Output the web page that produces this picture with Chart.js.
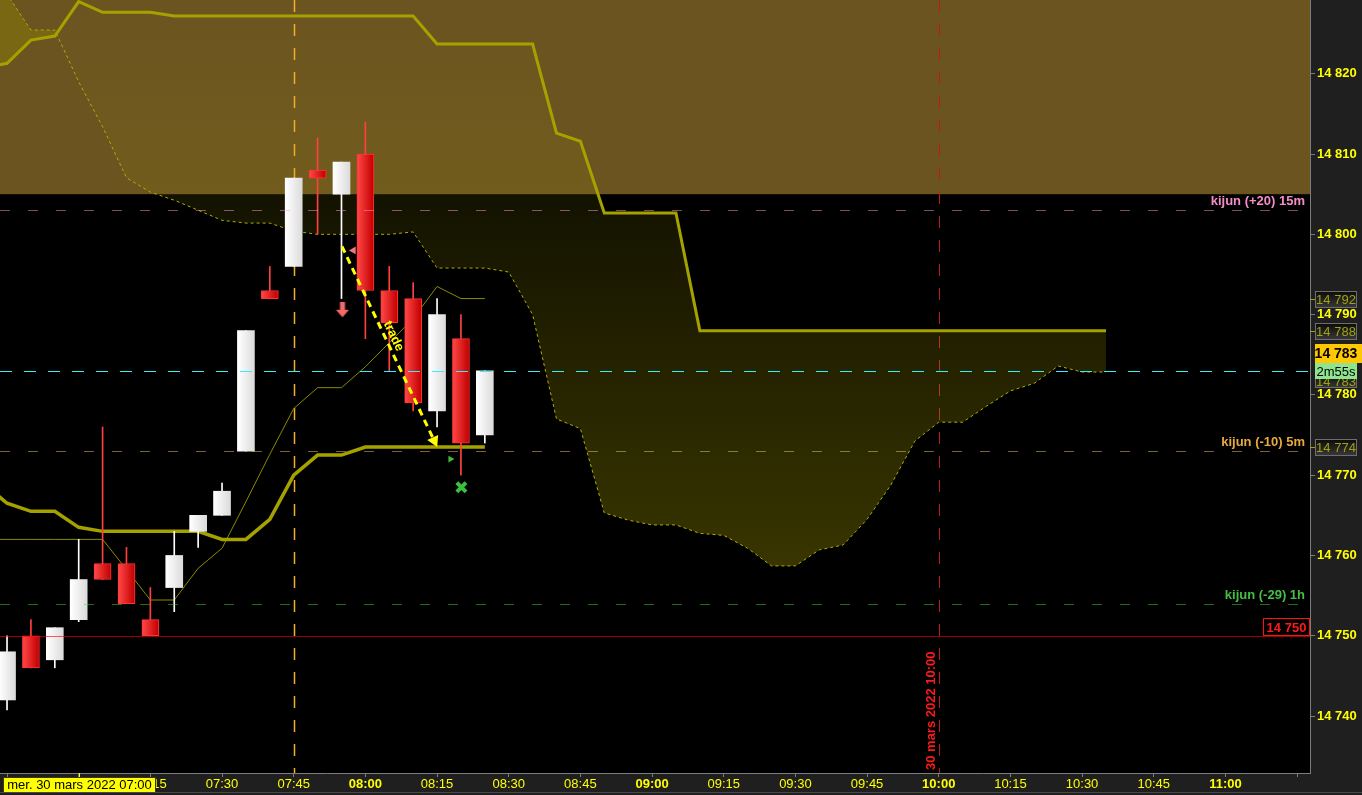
<!DOCTYPE html>
<html>
<head>
<meta charset="utf-8">
<script src="https://cdn.jsdelivr.net/npm/chart.js@4.4.1/dist/chart.umd.min.js"></script>
<style>
  html, body { margin: 0; padding: 0; background: #1f1f1f; overflow: hidden; }
  canvas { display: block; }
</style>
</head>
<body>
<canvas id="ichimokuChart" width="1362" height="795"></canvas>
<script>
// 5 min candles, mer. 30 mars 2022 - times are minutes after midnight
const candleTimes = [405, 410, 415, 420, 425, 430, 435, 440, 445, 450, 455, 460, 465, 470, 475, 480, 485, 490, 495, 500, 505];
const opens  = [14742, 14750, 14747, 14752, 14759, 14759, 14752, 14756, 14763, 14765, 14773, 14793, 14796, 14808, 14805, 14810, 14793, 14792, 14778, 14787, 14775];
const highs  = [14750, 14752, 14751, 14762, 14776, 14761, 14756, 14763, 14765, 14769, 14788, 14796, 14807, 14812, 14809, 14814, 14796, 14794, 14792, 14790, 14783];
const lows   = [14740.75, 14746, 14746, 14751.75, 14757, 14754, 14750, 14753, 14761, 14765, 14773, 14792, 14796, 14800, 14792, 14787, 14783, 14778, 14776, 14770, 14774];
const closes = [14748, 14746, 14751, 14757, 14757, 14754, 14750, 14760, 14765, 14768, 14788, 14792, 14807, 14807, 14809, 14793, 14789, 14779, 14790, 14774, 14783];

// tenkan / kijun, 06:40 -> 08:25
const lineTimes = [400, 405, 410, 415, 420, 425, 430, 435, 440, 445, 450, 455, 460, 465, 470, 475, 480, 485, 490, 495, 500, 505];
const tenkan = [14762, 14762, 14762, 14762, 14762, 14762, 14758.25, 14754.45, 14754.45, 14758.4, 14760.9, 14766.7, 14772.6, 14778.3, 14780.9, 14780.9, 14783.5, 14786.5, 14789.5, 14793.5, 14792, 14792];
const kijun  = [14769, 14766.5, 14765.5, 14765.5, 14763.5, 14763, 14763, 14763, 14763, 14763, 14762, 14762, 14764.5, 14770, 14772.5, 14772.5, 14773.5, 14773.5, 14773.5, 14773.5, 14773.5, 14773.5];

// senkou spans (projected), 06:40 -> 10:35
const cloudTimes = [400, 405, 410, 415, 420, 425, 430, 435, 440, 445, 450, 455, 460, 465, 470, 475,
  480, 485, 490, 495, 500, 505, 510, 515, 520, 525, 530, 535, 540, 545, 550, 555,
  560, 565, 570, 575, 580, 585, 590, 595, 600, 605, 610, 615, 620, 625, 630, 635];
const spanA = [14832.4, 14829.9, 14825.45, 14825.45, 14819, 14813.4, 14807.05, 14805.25, 14804.25, 14803, 14801.75, 14801.4, 14801.4, 14800.4, 14800, 14800,
  14800, 14800, 14800.3, 14795.8, 14795.8, 14795.8, 14795.3, 14790, 14777, 14775.8, 14765.3, 14764.4, 14763.8, 14763.8, 14762.75, 14762.5,
  14760.9, 14758.7, 14758.7, 14760.7, 14761.3, 14764.5, 14768.8, 14774.25, 14776.6, 14776.6, 14778.6, 14780.5, 14781.45, 14783.6, 14782.85, 14782.85];
const spanB = [14820.7, 14821.3, 14824.2, 14824.7, 14829, 14827.65, 14827.65, 14827.65, 14827.2, 14827.2, 14827.2, 14827.2, 14827.2, 14827.2, 14827.2, 14827.2,
  14827.2, 14827.2, 14827.2, 14823.7, 14823.7, 14823.7, 14823.7, 14823.7, 14812.6, 14811.6, 14802.65, 14802.65, 14802.65, 14802.65, 14788, 14788,
  14788, 14788, 14788, 14788, 14788, 14788, 14788, 14788, 14788, 14788, 14788, 14788, 14788, 14788, 14788, 14788];

// drawn trade and signals
const tradeTimes = [475.1, 494.4];
const tradePrices = [14798.5, 14774.3];
const markerTimes = [475.2, 477.5, 497.8, 500.1];
const markerPrices = [14790.6, 14798, 14772, 14768.5];

// levels
const refLevels = [14803, 14773, 14754];
const refNames = ['kijun (+20) 15m', 'kijun (-10) 5m', 'kijun (-29) 1h'];
const lastPrice = 14783;
const countdown = '2m55s';
const supportLevel = 14750;
const zoneLow = 14805;
const sessionMarkTime = 465;
const dateMarkTime = 600;
const dateMarkLabel = '30 mars 2022 10:00';
const crossTime = 420;
const crossLabel = 'mer. 30 mars 2022 07:00';

// axes
const axisTimes = [405, 420, 435, 450, 465, 480, 495, 510, 525, 540, 555, 570, 585, 600, 615, 630, 645, 660, 675];
const priceTicks = [14740, 14750, 14760, 14770, 14780, 14790, 14800, 14810, 14820];

const FONT = '"Liberation Sans", Arial, sans-serif';

function fmtPrice(v) {
  return String(Math.round(v)).replace(/\B(?=(\d{3})+(?!\d))/g, ' ');
}

function fmtTime(m) {
  const h = Math.floor(m / 60);
  const mm = Math.round(m % 60);
  return String(h).padStart(2, '0') + ':' + String(mm).padStart(2, '0');
}

function makeDownArrow() {
  const c = document.createElement('canvas');
  c.width = 14; c.height = 16;
  const g = c.getContext('2d');
  g.fillStyle = '#f26a6a';
  g.beginPath();
  g.moveTo(4.5, 0); g.lineTo(9.5, 0); g.lineTo(9.5, 8); g.lineTo(13.5, 8);
  g.lineTo(7, 15.5); g.lineTo(0.5, 8); g.lineTo(4.5, 8);
  g.closePath();
  g.fill();
  return c;
}

function cloudGradient(c) {
  const a = c.chart.chartArea;
  if (!a || !isFinite(a.top) || !isFinite(a.bottom) || a.bottom <= a.top) return 'rgba(160,152,0,0.2)';
  const g = c.chart.ctx.createLinearGradient(0, a.top, 0, a.bottom);
  g.addColorStop(0, 'rgba(160,152,0,0)');
  g.addColorStop(1, 'rgba(160,152,0,0.48)');
  return g;
}

function isUp(i) {
  return closes[i] >= opens[i];
}

function bodyFill(c) {
  const i = c.dataIndex;
  const xs = c.chart.scales.x;
  if (i === undefined || !xs) return '#e02020';
  const px = xs.getPixelForValue(candleTimes[i]);
  if (!isFinite(px)) return isUp(i) ? '#f0f0f0' : '#e02020';
  const g = c.chart.ctx.createLinearGradient(px - 8, 0, px + 8, 0);
  if (isUp(i)) {
    g.addColorStop(0, '#ffffff');
    g.addColorStop(1, '#dcdcdc');
  } else {
    g.addColorStop(0, '#ff4646');
    g.addColorStop(1, '#c20000');
  }
  return g;
}

function tradeRotation(c) {
  const {x, y} = c.chart.scales;
  if (!x || !y) return 154;
  const dx = x.getPixelForValue(tradeTimes[1]) - x.getPixelForValue(tradeTimes[0]);
  const dy = y.getPixelForValue(tradePrices[1]) - y.getPixelForValue(tradePrices[0]);
  if (!isFinite(dx) || !isFinite(dy)) return 154;
  return Math.atan2(dx, -dy) * 180 / Math.PI;
}

function hLine(ctx, a, py, color, dash) {
  const yy = Math.round(py) + 0.5;
  ctx.strokeStyle = color;
  ctx.lineWidth = 1;
  ctx.setLineDash(dash);
  ctx.beginPath();
  ctx.moveTo(a.left, yy);
  ctx.lineTo(a.right, yy);
  ctx.stroke();
}

function vLine(ctx, a, px, color, dash, width) {
  const xx = Math.round(px) + 0.5;
  ctx.strokeStyle = color;
  ctx.lineWidth = width;
  ctx.setLineDash(dash);
  ctx.beginPath();
  ctx.moveTo(xx, a.top);
  ctx.lineTo(xx, a.bottom);
  ctx.stroke();
}

function axisBox(ctx, left, cy, w, h, text, o) {
  const top = Math.round(cy - h / 2);
  if (o.dark) {
    const g = ctx.createLinearGradient(0, top, 0, top + h);
    g.addColorStop(0, '#0a0a0a');
    g.addColorStop(1, '#3a3a3a');
    ctx.fillStyle = g;
  } else {
    ctx.fillStyle = o.fill;
  }
  ctx.fillRect(left, top, w, h);
  if (o.stroke) {
    ctx.strokeStyle = o.stroke;
    ctx.lineWidth = 1;
    ctx.setLineDash([]);
    ctx.strokeRect(left + 0.5, top + 0.5, w - 1, h - 1);
  }
  ctx.fillStyle = o.color;
  ctx.font = o.font;
  ctx.textAlign = 'center';
  ctx.textBaseline = 'middle';
  ctx.fillText(text, left + (o.textW || w) / 2, top + h / 2 + 1);
}

const refStyles = [
  {line: 'rgba(255,150,210,0.5)', text: '#f58cc8'},
  {line: 'rgba(245,195,100,0.5)', text: '#e8aa3c'},
  {line: 'rgba(60,220,60,0.5)', text: '#46be46'}
];

const overlay = {
  id: 'overlay',
  beforeDraw(chart) {
    const {ctx, chartArea: a} = chart;
    ctx.save();
    ctx.fillStyle = '#1f1f1f';
    ctx.fillRect(0, 0, chart.width, chart.height);
    ctx.fillStyle = '#000000';
    ctx.fillRect(a.left, a.top, a.right - a.left, a.bottom - a.top);
    ctx.restore();
  },
  beforeDatasetsDraw(chart) {
    const {ctx, chartArea: a, scales: {x, y}} = chart;
    ctx.save();
    ctx.beginPath();
    ctx.rect(a.left, a.top, a.right - a.left, a.bottom - a.top);
    ctx.clip();
    // shaded zone above 14 805
    const zy = y.getPixelForValue(zoneLow);
    ctx.fillStyle = '#6b5420';
    ctx.fillRect(a.left, a.top, a.right - a.left, zy - a.top);
    vLine(ctx, a, x.getPixelForValue(sessionMarkTime), '#f4b028', [12, 12], 1.5);
    vLine(ctx, a, x.getPixelForValue(dateMarkTime), '#b81c1c', [12, 12], 1);
    ctx.restore();
  },
  afterDatasetsDraw(chart) {
    const {ctx, chartArea: a, scales: {x, y}} = chart;
    ctx.save();
    ctx.beginPath();
    ctx.rect(a.left, a.top, a.right - a.left, a.bottom - a.top);
    ctx.clip();

    refLevels.forEach((lvl, i) => hLine(ctx, a, y.getPixelForValue(lvl), refStyles[i].line, [10, 18]));
    hLine(ctx, a, y.getPixelForValue(lastPrice), '#2ef0ff', [12, 12]);
    hLine(ctx, a, y.getPixelForValue(supportLevel), 'rgba(255,0,0,0.62)', []);

    ctx.font = 'bold 13px ' + FONT;
    ctx.textAlign = 'right';
    ctx.textBaseline = 'alphabetic';
    refLevels.forEach((lvl, i) => {
      ctx.fillStyle = refStyles[i].text;
      ctx.fillText(refNames[i], a.right - 5, Math.round(y.getPixelForValue(lvl)) - 5);
    });

    // "trade" along the drawn arrow
    const x0 = x.getPixelForValue(tradeTimes[0]), y0 = y.getPixelForValue(tradePrices[0]);
    const x1 = x.getPixelForValue(tradeTimes[1]), y1 = y.getPixelForValue(tradePrices[1]);
    const ang = Math.atan2(y1 - y0, x1 - x0);
    ctx.save();
    ctx.translate(x0 + (x1 - x0) * 0.48 + Math.sin(ang) * 8, y0 + (y1 - y0) * 0.48 - Math.cos(ang) * 8);
    ctx.rotate(ang);
    ctx.fillStyle = '#ffff00';
    ctx.font = 'bold 13px ' + FONT;
    ctx.textAlign = 'center';
    ctx.textBaseline = 'middle';
    ctx.fillText('trade', 0, 0);
    ctx.restore();

    // date marker text
    ctx.save();
    ctx.translate(Math.round(x.getPixelForValue(dateMarkTime)) - 8, a.bottom - 3);
    ctx.rotate(-Math.PI / 2);
    ctx.fillStyle = '#ff1a1a';
    ctx.font = 'bold 13px ' + FONT;
    ctx.textAlign = 'left';
    ctx.textBaseline = 'middle';
    ctx.fillText(dateMarkLabel, 0, 0);
    ctx.restore();

    // 14 750 tag
    const sy = Math.round(y.getPixelForValue(supportLevel));
    axisBox(ctx, a.right - 47, sy - 9, 47, 18, fmtPrice(supportLevel),
      {fill: '#000000', stroke: '#ff1010', color: '#ff1a1a', font: 'bold 13px ' + FONT});
    ctx.restore();
  },
  afterDraw(chart) {
    const {ctx, chartArea: a, scales: {x, y}} = chart;
    ctx.save();
    const left = a.right + 5;
    const olive = {dark: true, stroke: '#6e6e6e', color: '#a0a010', font: '13px ' + FONT};
    const last = [tenkan[tenkan.length - 1], spanB[spanB.length - 1], kijun[kijun.length - 1]];
    last.forEach(v => {
      const py = Math.round(y.getPixelForValue(v)) + 0.5;
      ctx.strokeStyle = '#a0a010';
      ctx.lineWidth = 1;
      ctx.beginPath(); ctx.moveTo(a.right, py); ctx.lineTo(a.right + 5, py); ctx.stroke();
      axisBox(ctx, left, py, 42, 17, fmtPrice(v), olive);
    });
    // span A tag, mostly under the countdown
    axisBox(ctx, left, y.getPixelForValue(spanA[spanA.length - 1]) + 9, 42, 14, fmtPrice(spanA[spanA.length - 1]), olive);

    const pp = y.getPixelForValue(lastPrice);
    axisBox(ctx, left, pp - 17, 52, 19, fmtPrice(lastPrice),
      {fill: '#ffc800', color: '#000000', font: 'bold 14px ' + FONT, textW: 42});
    axisBox(ctx, left, pp, 42, 16, countdown, {fill: '#8fe58f', color: '#000000', font: '13px ' + FONT});

    // crosshair time tag
    const cx = Math.round(x.getPixelForValue(crossTime)) + 0.5;
    ctx.strokeStyle = '#ffff00';
    ctx.beginPath(); ctx.moveTo(cx, a.bottom); ctx.lineTo(cx, a.bottom + 4); ctx.stroke();
    ctx.font = '13px ' + FONT;
    const tw = Math.max(ctx.measureText(crossLabel).width + 8, 153);
    const tl = Math.max(3, cx - tw / 2);
    ctx.fillStyle = '#ffff00';
    ctx.fillRect(tl, a.bottom + 4, tw, 16);
    ctx.strokeStyle = '#3a3a00';
    ctx.strokeRect(tl + 0.5, a.bottom + 4.5, tw - 1, 15);
    ctx.fillStyle = '#000000';
    ctx.textAlign = 'center';
    ctx.textBaseline = 'middle';
    ctx.fillText(crossLabel, tl + tw / 2, a.bottom + 12.5);

    ctx.strokeStyle = '#4a4a4a';
    ctx.beginPath(); ctx.moveTo(0, chart.height - 2.5); ctx.lineTo(chart.width, chart.height - 2.5); ctx.stroke();
    ctx.restore();
  }
};

const chart = new Chart(document.getElementById('ichimokuChart'), {
  type: 'line',
  data: {
    datasets: [
      {
        label: 'Senkou A',
        order: 9,
        data: cloudTimes.map((t, i) => ({x: t, y: spanA[i]})),
        borderColor: '#b0ae00',
        borderWidth: 1,
        borderDash: [3, 3],
        pointRadius: 0,
        tension: 0,
        fill: {target: 1, above: 'rgba(150,140,0,0.35)'},
        backgroundColor: cloudGradient
      },
      {
        label: 'Senkou B',
        order: 8,
        data: cloudTimes.map((t, i) => ({x: t, y: spanB[i]})),
        borderColor: '#a5a200',
        borderWidth: 3,
        pointRadius: 0,
        tension: 0,
        fill: false
      },
      {
        label: 'Tenkan',
        order: 7,
        data: lineTimes.map((t, i) => ({x: t, y: tenkan[i]})),
        borderColor: '#8a8a00',
        borderWidth: 1,
        pointRadius: 0,
        tension: 0,
        fill: false
      },
      {
        label: 'Kijun',
        order: 6,
        data: lineTimes.map((t, i) => ({x: t, y: kijun[i]})),
        borderColor: '#a5a200',
        borderWidth: 3.5,
        pointRadius: 0,
        tension: 0,
        fill: false
      },
      {
        type: 'bar',
        label: 'wicks',
        order: 5,
        grouped: false,
        barThickness: 1,
        data: candleTimes.map((t, i) => ({x: t, y: [lows[i], highs[i]]})),
        backgroundColor: c => (c.dataIndex !== undefined && isUp(c.dataIndex)) ? '#ffffff' : '#ff4040',
        borderWidth: 0
      },
      {
        type: 'bar',
        label: 'bodies',
        order: 4,
        grouped: false,
        barThickness: 17,
        borderSkipped: false,
        data: candleTimes.map((t, i) => ({x: t, y: [opens[i], closes[i]]})),
        backgroundColor: bodyFill,
        borderColor: '#ff3434',
        borderWidth: c => (c.dataIndex !== undefined && isUp(c.dataIndex)) ? 0 : 1
      },
      {
        label: 'trade',
        order: 3,
        data: tradeTimes.map((t, i) => ({x: t, y: tradePrices[i]})),
        borderColor: '#ffff00',
        borderWidth: 3,
        borderDash: [7, 5],
        tension: 0,
        fill: false,
        pointRadius: [0, 7],
        pointStyle: 'triangle',
        pointBackgroundColor: '#ffff00',
        pointBorderWidth: 0,
        pointRotation: tradeRotation
      },
      {
        label: 'signals',
        order: 2,
        showLine: false,
        data: markerTimes.map((t, i) => ({x: t, y: markerPrices[i]})),
        pointStyle: [makeDownArrow(), 'triangle', 'triangle', 'crossRot'],
        pointRotation: [0, -90, 90, 0],
        pointRadius: [8, 4.5, 4, 6.5],
        pointBackgroundColor: ['#f26a6a', '#f07878', '#3cc03c', '#3cc03c'],
        pointBorderColor: ['#f26a6a', '#f07878', '#3cc03c', '#3cc03c'],
        pointBorderWidth: [0, 0, 0, 4]
      }
    ]
  },
  options: {
    responsive: false,
    animation: false,
    devicePixelRatio: 1,
    events: [],
    layout: {padding: 0, autoPadding: false},
    plugins: {
      legend: {display: false},
      tooltip: {enabled: false}
    },
    scales: {
      x: {
        type: 'linear',
        min: 403.53,
        max: 677.7,
        offset: false,
        afterBuildTicks: s => { s.ticks = axisTimes.map(v => ({value: v})); },
        afterFit: s => { s.height = 22; s.paddingLeft = 0; s.paddingRight = 0; },
        grid: {drawOnChartArea: false, offset: false, tickLength: 4, color: '#7c7c7c'},
        border: {color: '#7c7c7c'},
        ticks: {
          autoSkip: false,
          maxRotation: 0,
          padding: 0,
          color: '#ffff00',
          font: c => ({family: FONT, size: 13, weight: (c.tick && c.tick.value % 60 === 0) ? 'bold' : 'normal'}),
          callback: v => (v === axisTimes[0] || v === axisTimes[axisTimes.length - 1]) ? '' : fmtTime(v)
        }
      },
      y: {
        position: 'right',
        min: 14732.9,
        max: 14829.19,
        afterBuildTicks: s => { s.ticks = priceTicks.map(v => ({value: v})); },
        afterFit: s => { s.width = 52; s.paddingTop = 0; s.paddingBottom = 0; },
        grid: {drawOnChartArea: false, tickLength: 5, color: '#7c7c7c'},
        border: {color: '#7c7c7c'},
        ticks: {
          padding: 2,
          color: '#ffff00',
          font: {family: FONT, size: 13, weight: 'bold'},
          callback: v => fmtPrice(v)
        }
      }
    }
  },
  plugins: [overlay]
});
</script>
</body>
</html>
